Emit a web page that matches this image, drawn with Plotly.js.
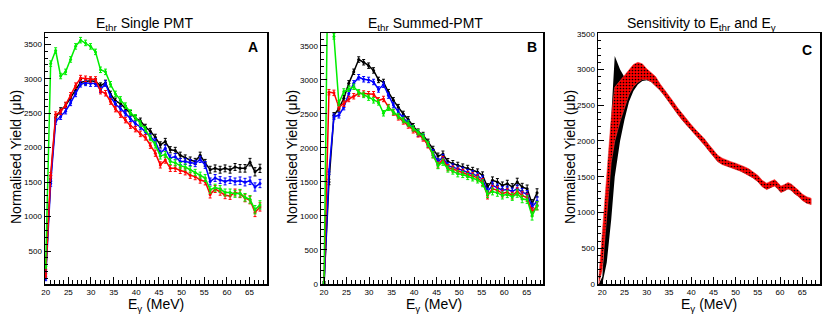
<!DOCTYPE html>
<html>
<head>
<meta charset="utf-8">
<script src="https://cdn.plot.ly/plotly-3.0.1.min.js"></script>
<style>html,body{margin:0;padding:0;background:#fff;}#chart{width:830px;height:319px;}</style>
</head>
<body>
<div id="chart"></div>
<script>
// ---------- data ----------
const energies = [20.0, 21.1, 22.2, 23.3, 24.4, 25.5, 26.6, 27.7, 28.8, 29.9,
  31.0, 32.1, 33.2, 34.3, 35.4, 36.5, 37.6, 38.7, 39.8, 40.9,
  42.0, 43.1, 44.2, 45.3, 46.4, 47.5, 48.6, 49.7, 50.8, 51.9,
  53.0, 54.1, 55.2, 56.3, 57.4, 58.5, 59.6, 60.7, 61.8, 62.9,
  64.0, 65.1, 66.2, 67.3];

const yieldErr = [30, 40, 40, 40, 40, 40, 40, 40, 40, 40,
  40, 40, 40, 40, 40, 40, 40, 40, 40, 40,
  40, 40, 45, 45, 45, 45, 45, 45, 45, 45,
  45, 45, 50, 50, 50, 50, 50, 50, 50, 55,
  55, 55, 60, 60];

// Panel A: E_thr single PMT
const singleBlack = [200, 1550, 2440, 2540, 2610, 2720, 2830, 2950, 2960, 2970,
  2960, 2900, 2940, 2780, 2680, 2640, 2570, 2500, 2430, 2390,
  2300, 2240, 2150, 2040, 2090, 1970, 1960, 1890, 1850, 1820,
  1800, 1890, 1780, 1680, 1700, 1680, 1700, 1680, 1720, 1700,
  1700, 1790, 1650, 1700];
const singleBlue = [100, 1480, 2380, 2450, 2530, 2650, 2780, 2920, 2940, 2930,
  2930, 2840, 2930, 2740, 2630, 2570, 2500, 2420, 2350, 2300,
  2230, 2160, 2090, 1920, 1990, 1850, 1870, 1800, 1800, 1785,
  1770, 1830, 1750, 1510, 1560, 1530, 1510, 1530, 1510, 1520,
  1500, 1520, 1430, 1480];
const singleRed = [140, 1600, 2480, 2520, 2620, 2760, 2900, 3010, 3000, 2990,
  2990, 2820, 2790, 2670, 2560, 2480, 2400, 2320, 2270, 2200,
  2150, 2030, 1920, 1750, 1820, 1700, 1700, 1670, 1650, 1600,
  1580, 1530, 1510, 1320, 1400, 1360, 1310, 1300, 1350, 1330,
  1270, 1240, 1060, 1140];
const singleGreen = [280, 3220, 3410, 3040, 3100, 3280, 3470, 3560, 3520, 3470,
  3390, 3130, 3100, 2920, 2780, 2700, 2610, 2510, 2440, 2350,
  2270, 2140, 2040, 1880, 1900, 1800, 1780, 1740, 1720, 1680,
  1640, 1600, 1560, 1390, 1420, 1400, 1350, 1350, 1330, 1340,
  1280, 1250, 1100, 1170];

// Panel B: E_thr summed PMT
const summedBlack = [0, 1500, 2480, 2580, 2730, 2950, 3120, 3300, 3260, 3210,
  3140, 3000, 2970, 2820, 2700, 2600, 2500, 2420, 2320, 2240,
  2190, 2090, 1980, 1880, 1910, 1800, 1770, 1745, 1720, 1700,
  1670, 1647, 1598, 1425, 1524, 1500, 1450, 1475, 1425, 1500,
  1425, 1400, 1180, 1340];
const summedBlue = [0, 1650, 2460, 2480, 2600, 2800, 2950, 3040, 3010, 3000,
  2970, 2860, 2930, 2770, 2630, 2530, 2440, 2370, 2290, 2210,
  2160, 2050, 1930, 1800, 1860, 1740, 1720, 1690, 1670, 1640,
  1620, 1590, 1540, 1360, 1450, 1420, 1380, 1390, 1360, 1400,
  1350, 1320, 1130, 1220];
const summedRed = [0, 2820, 2810, 2600, 2650, 2720, 2760, 2800, 2800, 2790,
  2790, 2700, 2720, 2600, 2520, 2450, 2390, 2330, 2260, 2200,
  2140, 2040, 1900, 1750, 1830, 1710, 1690, 1660, 1640, 1610,
  1590, 1560, 1500, 1300, 1400, 1380, 1330, 1350, 1300, 1360,
  1300, 1270, 1060, 1150];
const summedGreen = [0, 6000, 3640, 2660, 2830, 2870, 2900, 2820, 2780, 2740,
  2700, 2670, 2510, 2590, 2530, 2470, 2410, 2360, 2290, 2230,
  2170, 2060, 1900, 1740, 1790, 1690, 1660, 1620, 1610, 1580,
  1560, 1530, 1480, 1320, 1360, 1340, 1300, 1320, 1280, 1330,
  1250, 1240, 1000, 1150];

// Panel C: sensitivity bands
const bandE = [19.2, 20.0, 21.0, 22.0, 22.8, 24.0, 25.0, 26.0, 27.0, 28.0,
  29.0, 30.0, 31.0, 32.0, 33.0, 34.0, 35.0, 36.0, 37.0, 38.0,
  39.0, 40.0, 41.0, 42.0, 43.0, 44.0, 45.0, 46.0, 47.0, 48.0,
  49.0, 50.0, 51.0, 52.0, 53.0, 54.0, 55.0, 56.0, 57.0, 58.0,
  58.8, 59.5, 60.2, 61.0, 61.8, 62.5, 63.3, 64.0, 65.0, 66.0, 67.0];
const egHigh = [80, 720, 1520, 2320, 2750, 2840, 2910, 2990, 3070, 3100,
  3080, 3010, 2960, 2900, 2800, 2720, 2640, 2550, 2460, 2380,
  2300, 2230, 2160, 2100, 2030, 1950, 1870, 1800, 1760, 1730,
  1710, 1690, 1670, 1640, 1610, 1570, 1520, 1450, 1410, 1440,
  1460, 1420, 1370, 1390, 1420, 1400, 1350, 1320, 1260, 1220, 1200];
const egLow = [0, 200, 950, 1700, 2000, 2280, 2480, 2650, 2760, 2820,
  2860, 2860, 2830, 2770, 2710, 2630, 2550, 2460, 2370, 2290,
  2210, 2140, 2070, 2010, 1940, 1860, 1780, 1710, 1670, 1640,
  1620, 1600, 1580, 1550, 1520, 1480, 1430, 1360, 1320, 1350,
  1370, 1330, 1280, 1300, 1330, 1310, 1260, 1230, 1170, 1130, 1110];
const thrHigh = [0, 100, 1250, 2400, 3190, 3000, 2890, 2980, 3060, 3090,
  3070, 3000, 2950, 2890, 2790, 2710, 2630, 2540, 2450, 2370,
  2290, 2220, 2150, 2090, 2020, 1940, 1860, 1790, 1750, 1720,
  1700, 1680, 1660, 1630, 1600, 1560, 1510, 1440, 1400, 1430,
  1450, 1410, 1360, 1380, 1410, 1390, 1340, 1310, 1250, 1210, 1190];
const thrLow = [0, 0, 300, 900, 1500, 2000, 2300, 2550, 2700, 2790,
  2840, 2850, 2825, 2765, 2705, 2630, 2550, 2460, 2370, 2290,
  2210, 2140, 2070, 2010, 1940, 1860, 1780, 1710, 1670, 1640,
  1620, 1600, 1580, 1550, 1520, 1480, 1430, 1360, 1320, 1350,
  1370, 1330, 1280, 1300, 1330, 1310, 1260, 1230, 1170, 1130, 1110];

const seriesColors = ['#000000', '#0000ff', '#ff0000', '#00ee00'];
const panelTitles = ['E<sub>thr</sub> Single PMT', 'E<sub>thr</sub> Summed-PMT', 'Sensitivity to E<sub>thr</sub> and E<sub>γ</sub>'];
const panelLetters = ['A', 'B', 'C'];
const xTitle = 'E<sub>γ</sub> (MeV)';
const yTitle = 'Normalised Yield (μb)';

// ---------- traces ----------
function pts(y, color, xa, ya) {
  return {
    x: energies, y: y, xaxis: xa, yaxis: ya, type: 'scatter', mode: 'lines+markers',
    line: {color: color, width: 1.5},
    marker: {color: color, size: 3},
    error_y: {type: 'data', array: yieldErr, visible: true, color: color, thickness: 1, width: 1.5},
    hoverinfo: 'skip'
  };
}
function band(xs, hi, lo, xa, ya, extra) {
  return Object.assign({
    x: xs.concat(xs.slice().reverse()),
    y: hi.concat(lo.slice().reverse()),
    xaxis: xa, yaxis: ya, type: 'scatter', mode: 'lines', fill: 'toself',
    hoverinfo: 'skip'
  }, extra);
}

const traces = [];
[singleBlack, singleBlue, singleRed, singleGreen].forEach((s, i) => traces.push(pts(s, seriesColors[i], 'x', 'y')));
[summedBlack, summedBlue, summedRed, summedGreen].forEach((s, i) => traces.push(pts(s, seriesColors[i], 'x2', 'y2')));
traces.push(band(bandE, thrHigh, thrLow, 'x3', 'y3', {
  line: {color: '#000', width: 0}, fillcolor: '#000'
}));
traces.push(band(bandE, egHigh, egLow, 'x3', 'y3', {
  line: {color: '#ff4040', width: 0.6}, fillcolor: '#ff0000',
  fillpattern: {shape: '.', bgcolor: '#ff0000', fgcolor: '#000000', size: 3, solidity: 0.25}
}));

// ---------- layout ----------
const W = 830, H = 319;
const frames = [[45, 267], [321, 543], [598, 820]];
const yDom = [(H - 284) / H, (H - 33) / H];
const xRanges = [[19.85, 68.85], [19.33, 68.62], [19.03, 69.0]];
const yRanges = [[22, 3664], [0, 3690], [0, 3510]];
const fontFam = 'Liberation Sans, Arial, Helvetica, sans-serif';

function xax(i, anchor) {
  return {
    domain: [frames[i][0] / W, frames[i][1] / W], anchor: anchor, range: xRanges[i],
    tickmode: 'linear', tick0: 20, dtick: 5, ticks: 'inside', ticklen: 7, tickwidth: 1, tickcolor: '#000',
    minor: {dtick: 1, tick0: 20, ticks: 'inside', ticklen: 4, tickwidth: 1, tickcolor: '#000'},
    showline: true, mirror: true, linecolor: '#000', linewidth: 1.5,
    showgrid: false, zeroline: false, tickfont: {size: 8, family: fontFam, color: '#000'}
  };
}
function yax(i, anchor) {
  return {
    domain: yDom, anchor: anchor, range: yRanges[i],
    tickmode: 'linear', tick0: 0, dtick: 500, ticks: 'inside', ticklen: 6, tickwidth: 1, tickcolor: '#000',
    minor: {dtick: 100, tick0: 0, ticks: 'inside', ticklen: 3, tickwidth: 1, tickcolor: '#000'},
    showline: true, mirror: true, linecolor: '#000', linewidth: 1.5,
    showgrid: false, zeroline: false, tickfont: {size: 8, family: fontFam, color: '#000'}
  };
}

const ann = [];
const titleCx = [144.5, 425, 701];
const letterPos = [[253, 47.5], [531.5, 47], [807, 50]];
const xTitleCx = [155.5, 434, 709];
const yTitleCx = [16, 292, 570];
for (let i = 0; i < 3; i++) {
  ann.push({xref: 'paper', yref: 'paper', x: titleCx[i] / W, y: 1 - 24 / H, xanchor: 'center', yanchor: 'middle',
    text: panelTitles[i], showarrow: false, font: {size: 14, family: fontFam, color: '#000'}});
  ann.push({xref: 'paper', yref: 'paper', x: letterPos[i][0] / W, y: 1 - letterPos[i][1] / H, xanchor: 'center', yanchor: 'middle',
    text: '<b>' + panelLetters[i] + '</b>', showarrow: false, font: {size: 14, family: fontFam, color: '#000'}});
  ann.push({xref: 'paper', yref: 'paper', x: xTitleCx[i] / W, y: 3 / H, xanchor: 'center', yanchor: 'bottom',
    text: xTitle, showarrow: false, font: {size: 14, family: fontFam, color: '#000'}});
  ann.push({xref: 'paper', yref: 'paper', x: yTitleCx[i] / W, y: 1 - 157 / H, xanchor: 'center', yanchor: 'middle',
    text: yTitle, textangle: -90, showarrow: false, font: {size: 14, family: fontFam, color: '#000'}});
}

const layout = {
  width: W, height: H, margin: {l: 0, r: 0, t: 0, b: 0},
  paper_bgcolor: '#fff', plot_bgcolor: '#fff', showlegend: false,
  font: {family: fontFam, color: '#000'},
  xaxis: xax(0, 'y'), yaxis: yax(0, 'x'),
  xaxis2: xax(1, 'y2'), yaxis2: yax(1, 'x2'),
  xaxis3: xax(2, 'y3'), yaxis3: yax(2, 'x3'),
  annotations: ann
};

Plotly.newPlot('chart', traces, layout, {staticPlot: true, displayModeBar: false});
</script>
</body>
</html>
